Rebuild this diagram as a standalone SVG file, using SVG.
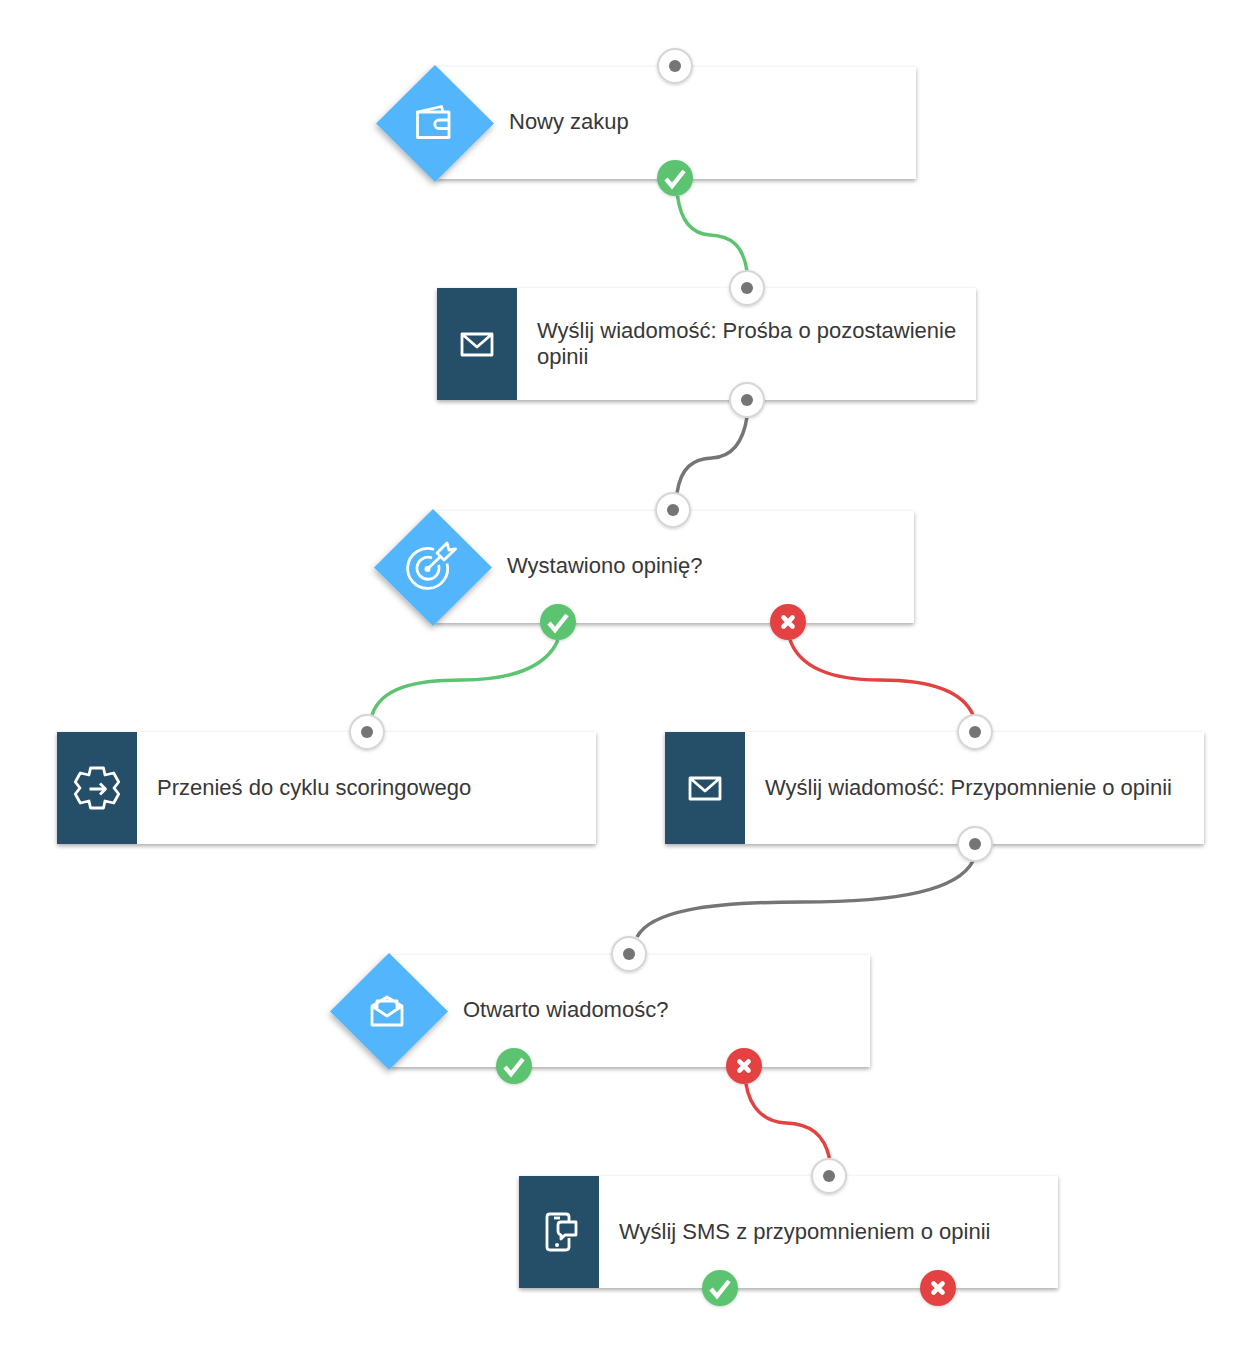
<svg xmlns="http://www.w3.org/2000/svg" width="1254" height="1347" viewBox="0 0 1254 1347">
<defs>
<filter id="sh" x="-10%" y="-20%" width="120%" height="140%"><feDropShadow dx="0" dy="2" stdDeviation="2.200" flood-color="#000" flood-opacity="0.34"/></filter>
<filter id="ds" x="-30%" y="-30%" width="160%" height="160%"><feDropShadow dx="-1" dy="3" stdDeviation="3" flood-color="#000" flood-opacity="0.3"/></filter>
<filter id="cs" x="-30%" y="-30%" width="160%" height="160%"><feDropShadow dx="0" dy="1" stdDeviation="1.500" flood-color="#000" flood-opacity="0.18"/></filter>
<g id="in"><circle r="17" fill="#fff" stroke="#d6d6d6" stroke-width="2" filter="url(#cs)"/><circle r="6" fill="#757575"/></g>
<g id="yes"><circle r="18" fill="#5cc470" filter="url(#cs)"/><path d="M-9 1L-3 8L9 -7" fill="none" stroke="#fff" stroke-width="4.400"/></g>
<g id="no"><circle r="18" fill="#e44242" filter="url(#cs)"/><path d="M-4.500 -4.500L4.500 4.500M4.500 -4.500L-4.500 4.500" fill="none" stroke="#fff" stroke-width="4.600" stroke-linecap="round"/></g>
</defs>
<style>
.card{fill:#fff;filter:url(#sh)}
.dia{fill:#53b6fc;filter:url(#ds)}
.sq{fill:#254f68}
.t{font-family:"Liberation Sans",Arial,sans-serif;font-size:22px;fill:#383838}
.ic{fill:none;stroke:#fff;stroke-width:2.800;stroke-linejoin:round}
.c{fill:none;stroke-width:3.500;stroke-linecap:butt}
.g{stroke:#5cc470}.r{stroke:#e44242}.k{stroke:#757575}
</style>
<rect width="1254" height="1347" fill="#fff"/>
<g id="connectors">
<path class="c g" d="M677.500 196C681 222 693 234 710 235C732 236 743 246 747 271"/>
<path class="c k" d="M747 417C743 443 731 457 712 458C693 459 681 467 677 493"/>
<path class="c g" d="M558 640C546 668 510 680 462 680C414 680 381 688 372 715"/>
<path class="c r" d="M790 640C800 668 832 680 880 680C928 680 962 690 973 715"/>
<path class="c k" d="M973 861C958 890 900 902 802 902C704 902 650 912 637 937"/>
<path class="c r" d="M746 1084C750 1108 764 1122 786 1123C810 1124 824 1134 829.500 1158"/>
</g>
<g id="node-nowy-zakup">
<rect class="card" x="437" y="67" width="479" height="112"/>
<path class="dia" d="M435 65L494 123.500L435 182L376 123.500Z"/>
<path class="ic" d="M417.500 112H449V137.500H417.500ZM417.500 112L441.500 106.500L443 112M449 120H439a4 4 0 0 0 0 8.500H449"/>
<text class="t" x="509" y="129">Nowy zakup</text>
<use href="#in" x="675" y="66"/><use href="#yes" x="675" y="178"/>
</g>
<g id="node-prosba">
<rect class="card" x="437" y="288" width="539" height="112"/>
<rect class="sq" x="437" y="288" width="80" height="112"/>
<path class="ic" d="M462 334H492V355H462ZM462 334L477 347L492 334"/>
<text class="t"><tspan x="537" y="338">Wyślij wiadomość: Prośba o pozostawienie</tspan><tspan x="537" y="364">opinii</tspan></text>
<use href="#in" x="747" y="288"/><use href="#in" x="747" y="400"/>
</g>
<g id="node-wystawiono">
<rect class="card" x="435" y="511" width="479" height="112"/>
<path class="dia" d="M433 509L492 567.500L433 626L374 567.500Z"/>
<path class="ic" d="M434 549.500A20 20 0 1 0 447 563.500"/>
<path class="ic" d="M432 558A11 11 0 1 0 438.500 565"/>
<circle cx="427.500" cy="569" r="3" fill="#fff"/>
<path class="ic" d="M428 568.500L440 557"/>
<path class="ic" d="M437 553L447 543L449 550L455.500 549L444 560Z"/>
<text class="t" x="507" y="573">Wystawiono opinię?</text>
<use href="#in" x="673" y="510"/><use href="#yes" x="558" y="622"/><use href="#no" x="788" y="622"/>
</g>
<g id="node-scoring">
<rect class="card" x="57" y="732" width="539" height="112"/>
<rect class="sq" x="57" y="732" width="80" height="112"/>
<path class="ic" d="M90.500 768H103.500L105 775L113.700 773L118.700 782L114 788L118.700 794L113.700 803L105 801L103.500 808H90.500L89 801L80.300 803L75.300 794L80 788L75.300 782L80.300 773L89 775Z"/>
<path class="ic" d="M89.500 789H105M100 783.500L105.500 789L100 794.500"/>
<text class="t" x="157" y="795">Przenieś do cyklu scoringowego</text>
<use href="#in" x="367" y="732"/>
</g>
<g id="node-przypomnienie">
<rect class="card" x="665" y="732" width="539" height="112"/>
<rect class="sq" x="665" y="732" width="80" height="112"/>
<path class="ic" d="M690 778H720V799H690ZM690 778L705 791L720 778"/>
<text class="t" x="765" y="795">Wyślij wiadomość: Przypomnienie o opinii</text>
<use href="#in" x="975" y="732"/><use href="#in" x="975" y="844"/>
</g>
<g id="node-otwarto">
<rect class="card" x="391" y="955" width="479" height="112"/>
<path class="dia" d="M389 953L448 1011.500L389 1070L330 1011.500Z"/>
<path class="ic" d="M372 1006V1025H402V1006L387 997ZM372 1006L387 1016L402 1006M377 1009V1001H397V1009"/>
<text class="t" x="463" y="1017">Otwarto wiadomośc?</text>
<use href="#in" x="629" y="954"/><use href="#yes" x="514" y="1066"/><use href="#no" x="744" y="1066"/>
</g>
<g id="node-sms">
<rect class="card" x="519" y="1176" width="539" height="112"/>
<rect class="sq" x="519" y="1176" width="80" height="112"/>
<path class="ic" d="M569 1222V1217Q569 1214 566 1214H550Q547 1214 547 1217V1247Q547 1250 550 1250H566Q569 1250 569 1247V1238"/>
<path class="ic" d="M561 1222H576V1235H565L561 1239V1235Q558 1234 558 1231V1225Q558 1222 561 1222Z"/>
<circle cx="557" cy="1245" r="2" fill="#fff"/><path class="ic" d="M554 1218H560"/>
<text class="t" x="619" y="1239">Wyślij SMS z przypomnieniem o opinii</text>
<use href="#in" x="829" y="1176"/><use href="#yes" x="720" y="1288"/><use href="#no" x="938" y="1288"/>
</g>
</svg>
